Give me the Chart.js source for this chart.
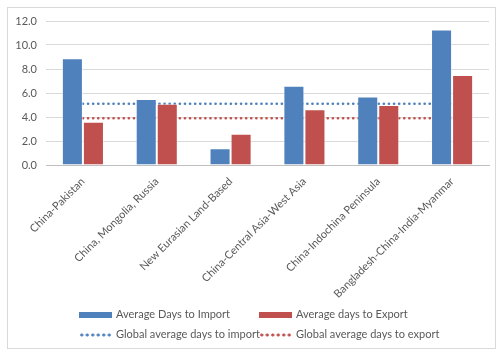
<!DOCTYPE html>
<html>
<head>
<meta charset="utf-8">
<script src="https://cdn.jsdelivr.net/npm/chart.js@4.4.1/dist/chart.umd.min.js"></script>
<style>
  html, body { margin: 0; padding: 0; background: #fff; }
  #wrap { position: relative; width: 499px; height: 352px; overflow: hidden; }
  #frame { position: absolute; left: 7px; top: 7px; width: 489px; height: 342px; border: 1px solid #d9d9d9; box-sizing: border-box; }
  #c { position: absolute; left: 0; top: 0; }
  .lg { position: absolute; font-family: Lato, "Liberation Sans", sans-serif; font-size: 11px; color: #595959; white-space: nowrap; line-height: 14px; }
  .sw { display: inline-block; width: 33px; height: 6px; vertical-align: middle; margin-right: 4px; }
  .dots { display: inline-block; width: 33px; height: 6px; vertical-align: middle; margin-right: 4px; }
</style>
</head>
<body>
<div id="wrap">
  <div id="frame"></div>
  <canvas id="c" width="499" height="352"></canvas>
  <div id="legend"></div>
</div>
<script>
const categories = ["China-Pakistan", "China, Mongolia, Russia", "New Eurasian Land-Based", "China-Central Asia-West Asia", "China-Indochina Peninsula", "Bangladesh-China-India-Myanmar"];
const importDays = [8.9, 5.5, 1.4, 6.6, 5.7, 11.3];
const exportDays = [3.6, 5.1, 2.6, 4.65, 5.0, 7.5];
const globalImport = [5.1, 5.1, 5.1, 5.1, 5.1, 5.1];
const globalExport = [3.9, 3.9, 3.9, 3.9, 3.9, 3.9];
const seriesNames = ["Average Days to Import", "Average days to Export", "Global average days to import", "Global average days to export"];
const yTicks = [0, 2, 4, 6, 8, 10, 12];

const BLUE = "#4f81bd", RED = "#c0504d";
const FONT = "Lato, 'Liberation Sans', sans-serif";

new Chart(document.getElementById("c"), {
  data: {
    labels: categories,
    datasets: [
      { type: "bar", label: seriesNames[0], data: importDays, backgroundColor: BLUE, borderColor: "rgba(255,255,255,0.5)", borderWidth: 1, categoryPercentage: 0.57, barPercentage: 1.0, order: 0 },
      { type: "bar", label: seriesNames[1], data: exportDays, backgroundColor: RED, borderColor: "rgba(255,255,255,0.5)", borderWidth: 1, categoryPercentage: 0.57, barPercentage: 1.0, order: 0 },
      { type: "line", label: seriesNames[2], data: globalImport, borderColor: BLUE, borderWidth: 2.6, borderDash: [0.1, 5], borderCapStyle: "round", pointRadius: 0, fill: false, order: 1 },
      { type: "line", label: seriesNames[3], data: globalExport, borderColor: RED, borderWidth: 2.6, borderDash: [0.1, 5], borderCapStyle: "round", pointRadius: 0, fill: false, order: 1 }
    ]
  },
  options: {
    responsive: false,
    animation: false,
    events: [],
    layout: { padding: { left: 0, right: 10, top: 21, bottom: 0 } },
    plugins: { legend: { display: false }, tooltip: { enabled: false } },
    scales: {
      x: {
        grid: { display: false },
        border: { display: true, color: "#bfbfbf", width: 1 },
        ticks: { color: "#595959", font: { family: FONT, size: 11 }, minRotation: 45, maxRotation: 45, autoSkip: false, padding: 2 },
        afterFit: (s) => { s.height = 187; }
      },
      y: {
        min: 0, max: 12,
        grid: { color: "#d9d9d9", drawTicks: false },
        border: { display: false },
        afterBuildTicks: (s) => { s.ticks = yTicks.map(v => ({ value: v })); },
        ticks: { color: "#595959", font: { family: FONT, size: 11 }, padding: 9, callback: (v) => Number(v).toFixed(1) },
        afterFit: (s) => { s.width = 46; }
      }
    }
  }
});

// Legend (2 x 2 grid like the original)
const lg = document.getElementById("legend");
const pos = [[79, 307], [259, 307], [79, 327], [259, 327]];
const cols = [BLUE, RED, BLUE, RED];
seriesNames.forEach((name, i) => {
  const d = document.createElement("div");
  d.className = "lg";
  d.style.left = pos[i][0] + "px";
  d.style.top = pos[i][1] + "px";
  const m = document.createElement("span");
  if (i < 2) {
    m.className = "sw";
    m.style.background = cols[i];
  } else {
    m.className = "dots";
    m.style.backgroundImage = "radial-gradient(circle, " + cols[i] + " 1.3px, transparent 1.8px)";
    m.style.backgroundSize = "5.5px 6px";
    m.style.backgroundRepeat = "repeat-x";
  }
  d.appendChild(m);
  d.appendChild(document.createTextNode(name));
  lg.appendChild(d);
});
</script>
</body>
</html>
